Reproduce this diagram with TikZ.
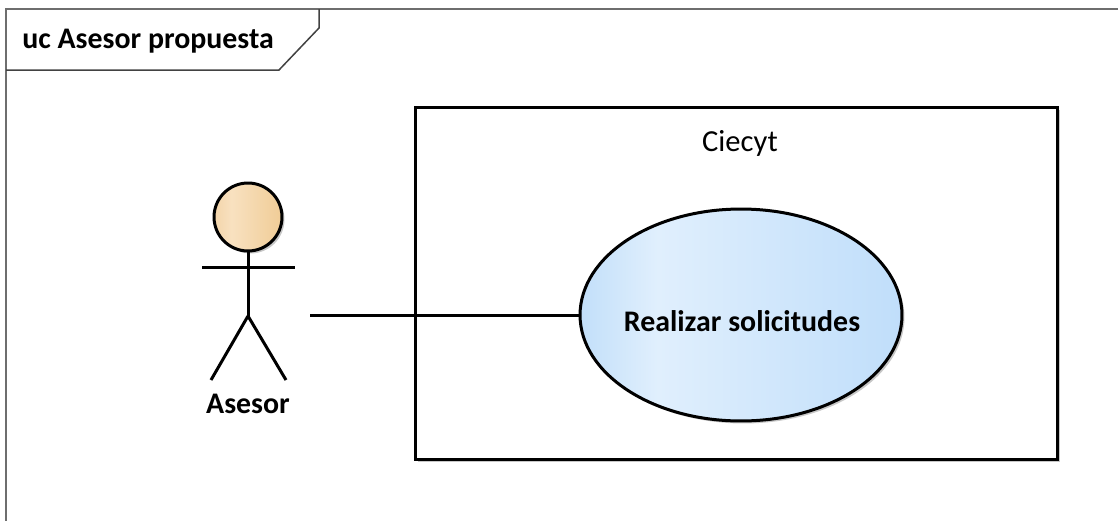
\documentclass[tikz,border=0pt]{standalone}
\usepackage{fontspec}
\setmainfont{Carlito}
\usetikzlibrary{positioning, shapes.geometric, shadows}
\definecolor{framegray}{HTML}{6E6E6E}
\pgfdeclarehorizontalshading{usecasefill}{100bp}{
    color(0bp)=({rgb,255:red,194;green,223;blue,249});
    color(25bp)=({rgb,255:red,194;green,223;blue,249});
    color(37bp)=({rgb,255:red,224;green,239;blue,253});
    color(75bp)=({rgb,255:red,192;green,222;blue,250});
    color(100bp)=({rgb,255:red,192;green,222;blue,250})}
\pgfdeclarehorizontalshading{actorfill}{100bp}{
    color(0bp)=({rgb,255:red,243;green,213;blue,170});
    color(25bp)=({rgb,255:red,243;green,213;blue,170});
    color(38bp)=({rgb,255:red,248;green,225;blue,192});
    color(75bp)=({rgb,255:red,240;green,204;blue,150});
    color(100bp)=({rgb,255:red,240;green,204;blue,150})}
\begin{document}
\begin{tikzpicture}[
                x=0.02cm,
                y=-0.02cm,
                thickline/.style={line width=0.06cm, black},
                softshadow/.style={drop shadow={shadow xshift=0.05cm, shadow yshift=-0.05cm, fill=black!22, opacity=1}},
                usecase/.style={ellipse, thickline, draw, minimum width=6.44cm, minimum height=4.24cm, inner sep=0pt, shading=usecasefill, softshadow},
                head/.style={circle, thickline, draw, minimum size=1.36cm, inner sep=0pt, shading=actorfill, softshadow},
                label/.style={font=\fontsize{17pt}{20pt}\selectfont\bfseries, inner sep=0pt},
            ]
                \useasboundingbox (0,0) rectangle (1118,521);

                % Draw the frame and its tab
                \draw[framegray, line width=0.04cm] (1118,9) -- (6,9) -- (6,521);
                \draw[framegray!60!black, line width=0.03cm] (319,9) -- (319,28) -- (279,70) -- (6,70);
                \node[label, anchor=west] (title) at (22,41) {uc Asesor propuesta};

                % Draw the boundary
                \node[thickline, draw, rectangle, minimum width=12.86cm, minimum height=7.06cm, inner sep=0pt, softshadow, fill=white] (system) at (736.5,283.5) {};
                \node[font=\fontsize{17.4pt}{20pt}\selectfont, inner sep=0pt] (systemname) at (740,143) {Ciecyt};

                % Draw the actor
                \node[head] (H-0) at (248,217) {};
                \coordinate (hip) at (248,316);
                \coordinate (arm-0) at (202,267);
                \coordinate (arm-1) at (295,267);
                \coordinate (leg-0) at (211,380);
                \coordinate (leg-1) at (286,380);
                \coordinate (A-0) at (310,315);
                \draw[thickline] (H-0) -- (hip);
                \draw[thickline] (arm-0) -- (arm-1);
                \foreach \name in {0,1}
                    \draw[thickline] (hip) -- (leg-\name);
                \node[label] (actorname) at (248,404) {Asesor};

                % Draw the use case and connect it
                \node[usecase] (U-0) at (741,315) {};
                \node[label] (U-name) at (742,321) {Realizar solicitudes};
                \draw[thickline] (A-0) -- (U-0);
            \end{tikzpicture}
\end{document}
